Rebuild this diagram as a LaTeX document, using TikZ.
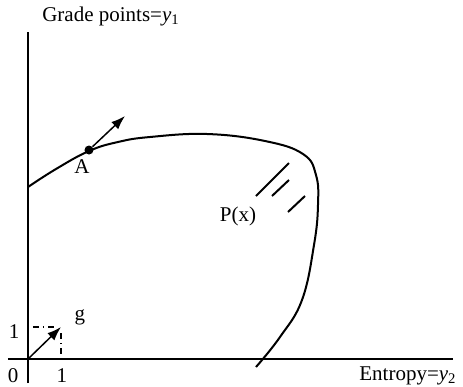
\documentclass[tikz,border=0pt]{standalone}
\usepackage{fontspec}
\setmainfont{Liberation Serif}
\usetikzlibrary{arrows.meta}
\tikzset{
	axis/.style={line width=1pt},% the two axes
	vec/.style={line width=0.75pt,-{Latex[length=7pt,width=5pt]}},
	helper/.style={line width=0.6pt,dash dot},
	lbl/.style={inner sep=1pt,font=\fontsize{10.5}{12}\selectfont}
}

\begin{document}
\begin{tikzpicture}[x=0.5pt,y=-0.5pt,
            dot/.style={circle,fill,inner sep=0pt,minimum size=4.5pt}
        ]
            \useasboundingbox (0,0) rectangle (463,387);
            % axes
            \coordinate (O) at (28,359);
            \coordinate (ytop) at (28,32);
            \coordinate (ybot) at (28,383);
            \coordinate (xl) at (8,359);
            \coordinate (xr) at (453,359);
            \draw[axis] (ybot) -- (ytop);
            \draw[axis] (xl) -- (xr);
            \node[lbl] (ylab) at (111,16) {Grade points=\textit{y}\textsubscript{1}};
            \node[lbl] (xlab) at (408,376) {Entropy=\textit{y}\textsubscript{2}};
            \node[lbl] (zero) at (13,376) {0};
            \node[lbl] (onex) at (62,376) {1};
            \node[lbl] (oney) at (14,332) {1};
            % unit vector g
            \coordinate (G) at (61,327);
            \coordinate (Gx) at (33,327);
            \coordinate (Gy) at (61,357);
            \draw[helper] (Gx) -- (56,327);
            \draw[helper] (61,333) -- (Gy);
            \draw[vec] (O) -- (G);
            \node[lbl] (g) at (80,317) {g};
            % the set P(x)
            \draw[line width=1pt] plot[smooth,tension=0.7] coordinates {
                (28,187) (56,169) (89,151) (118,142) (150,137) (207,134) (265,141) (303,154)
                (316,175) (318,205) (314,245) (302,300) (280,337) (256,367)};
            \node[dot] (A) at (89,150) {};
            \node[lbl] (Alab) at (82,167) {A};
            \coordinate (Atip) at (125,116);
            \draw[vec] (A) -- (Atip);
            \node[lbl] (P) at (238,216) {P(x)};
            \draw[line width=1pt] (256,196) -- (289,163)
                (272,196) -- (289,180)
                (288,212) -- (305,196);
        \end{tikzpicture}
\end{document}
